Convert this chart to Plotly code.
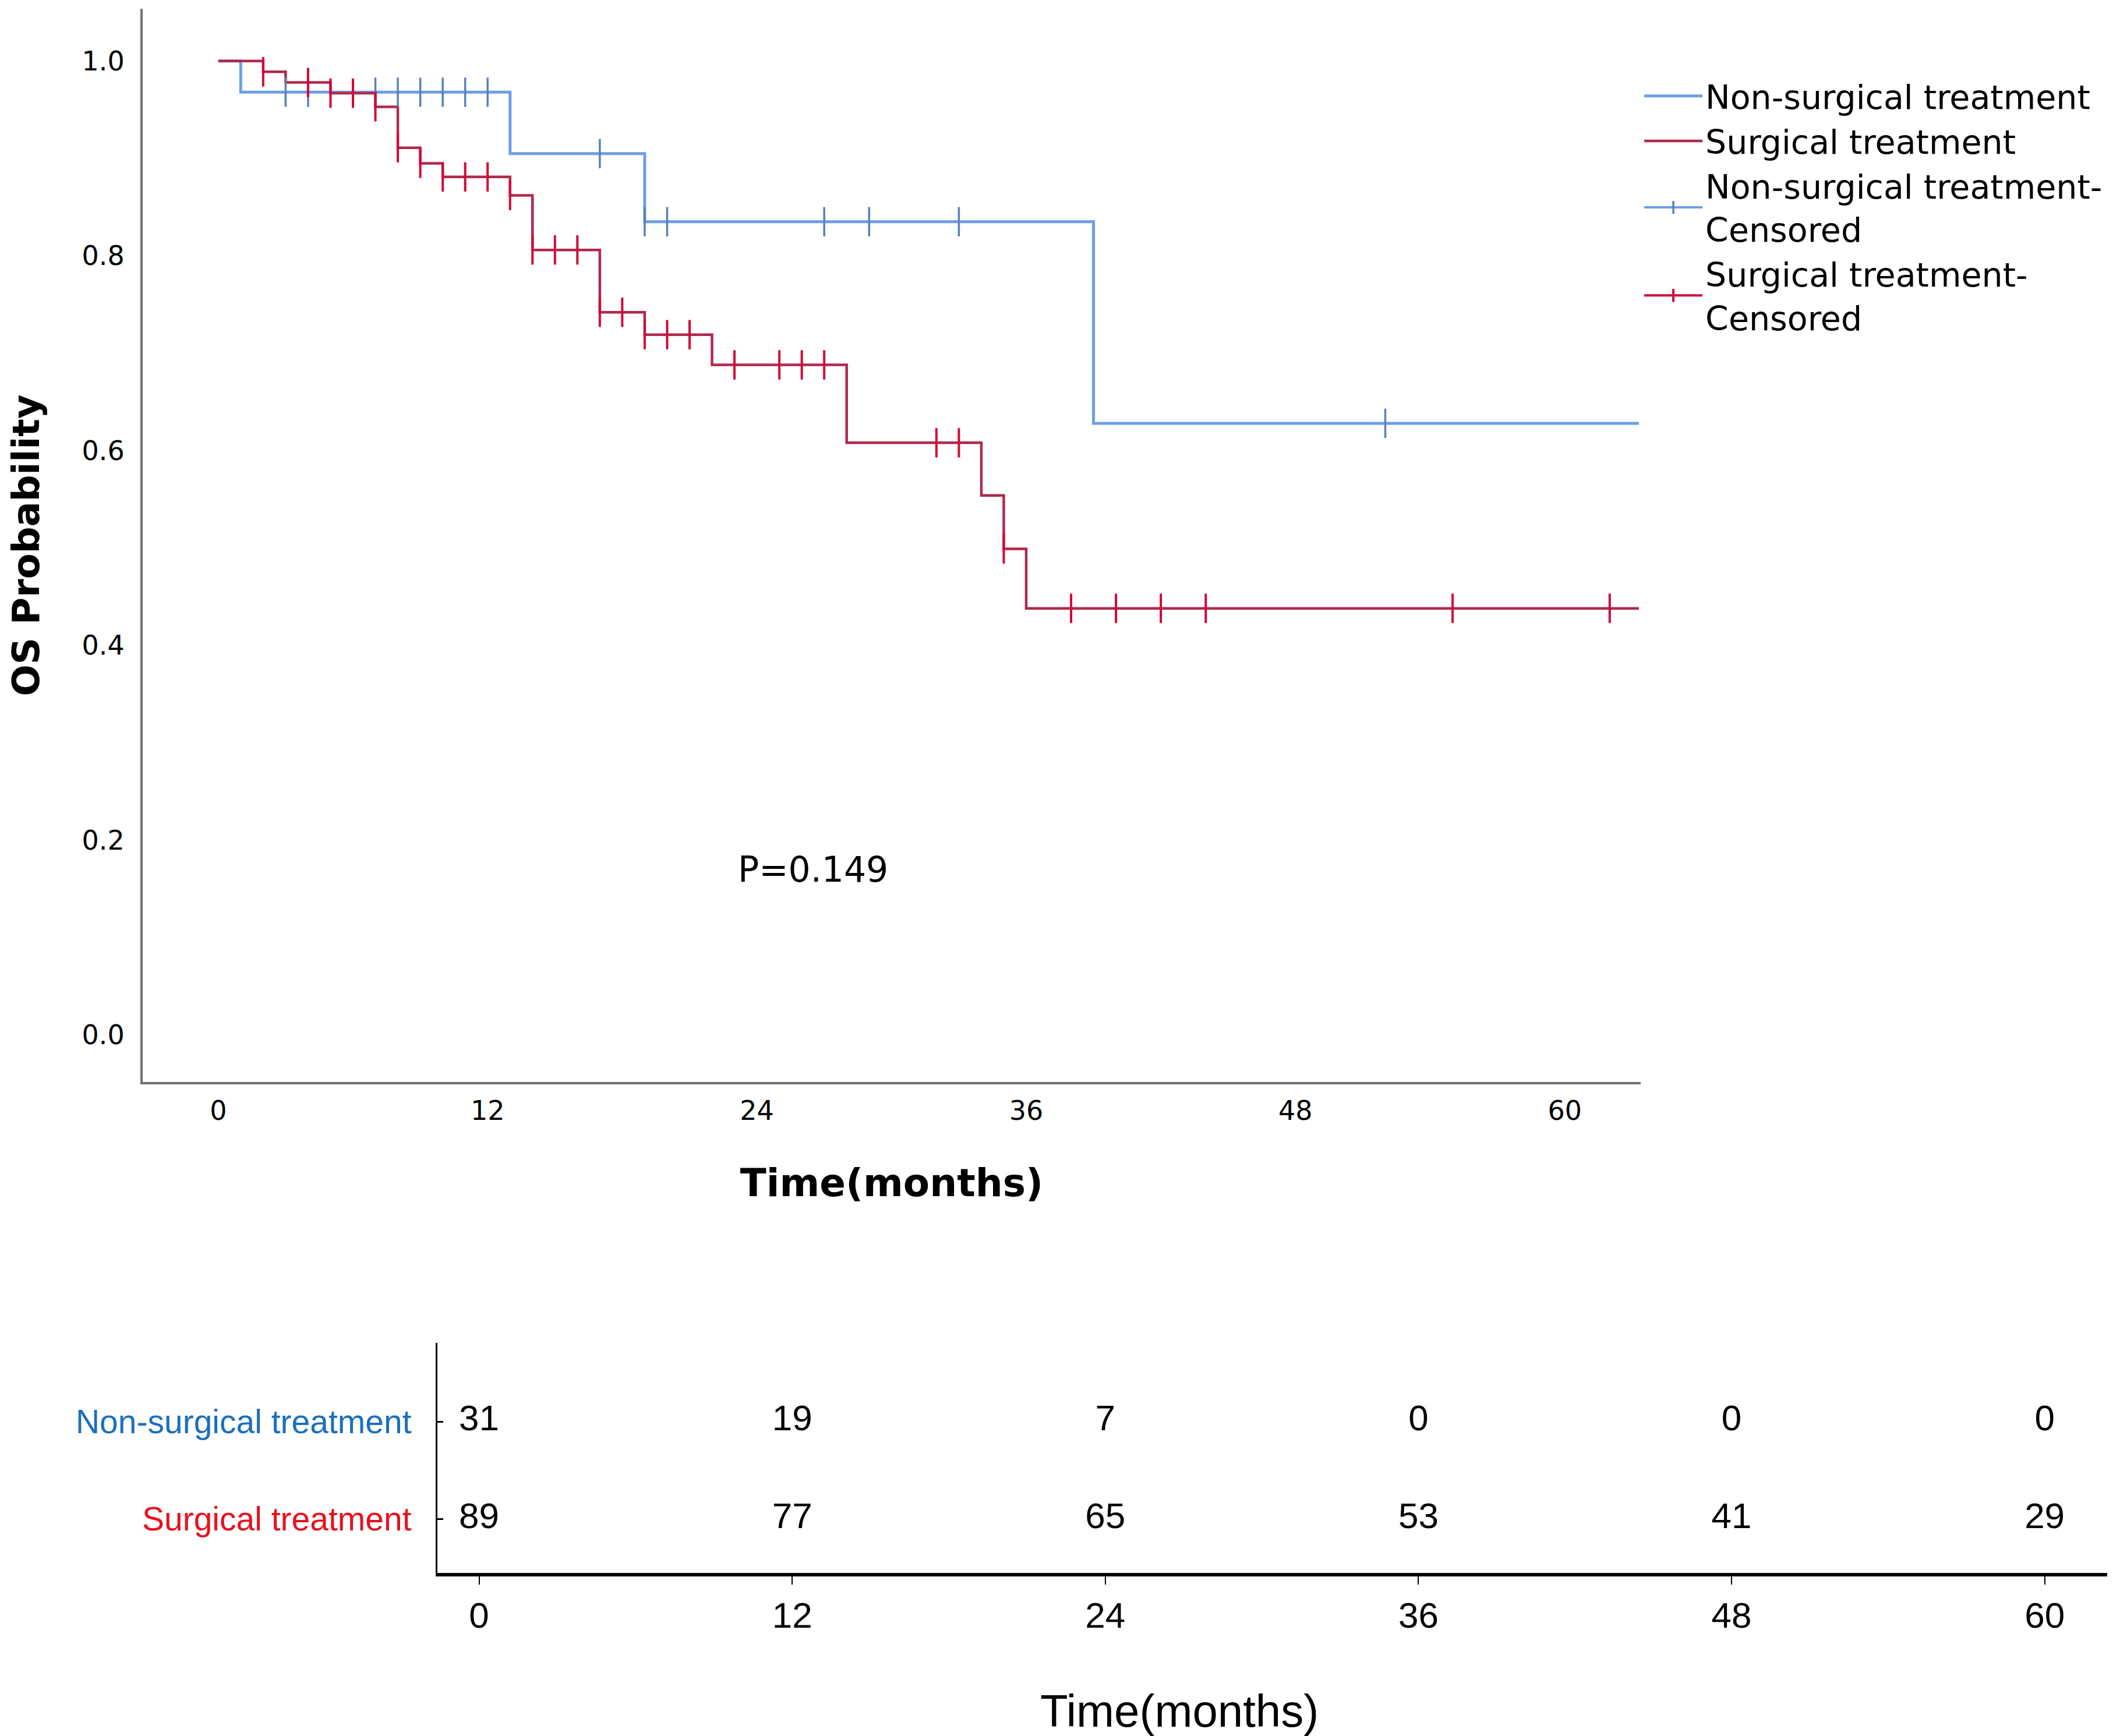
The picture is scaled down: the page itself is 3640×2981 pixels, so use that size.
import plotly.graph_objects as go

# Kaplan-Meier steps (months, OS probability)
nonsurg_time = [0, 1, 13, 19, 39, 63.3]
nonsurg_surv = [1.0, 0.968, 0.905, 0.835, 0.628, 0.628]

surg_time = [0, 2, 3, 5, 7, 8, 9, 10, 13, 14, 17, 19, 22, 28, 34, 35, 36, 63.3]
surg_surv = [1.0, 0.989, 0.978, 0.967, 0.953, 0.911, 0.895, 0.881, 0.862,
             0.806, 0.742, 0.719, 0.688, 0.608, 0.554, 0.499, 0.438, 0.438]

# censored observations
nonsurg_cens_time = [3, 4, 7, 8, 9, 10, 11, 12, 17, 19, 20, 27, 29, 33, 52]
nonsurg_cens_surv = [0.968, 0.968, 0.968, 0.968, 0.968, 0.968, 0.968, 0.968,
                     0.905, 0.835, 0.835, 0.835, 0.835, 0.835, 0.628]

surg_cens_time = [2, 4, 5, 6, 7, 8, 9, 10, 11, 12, 13, 14, 15, 16, 17, 18, 19,
                  20, 21, 23, 25, 26, 27, 32, 33, 35, 38, 40, 42, 44, 55, 62]
surg_cens_surv = [0.989, 0.978, 0.967, 0.967, 0.953, 0.911, 0.895, 0.881, 0.881,
                  0.881, 0.862, 0.806, 0.806, 0.806, 0.742, 0.742, 0.719, 0.719,
                  0.719, 0.688, 0.688, 0.688, 0.688, 0.608, 0.608, 0.499, 0.438,
                  0.438, 0.438, 0.438, 0.438, 0.438]

# number at risk table
risk_times = [0, 12, 24, 36, 48, 60]
risk_nonsurg = [31, 19, 7, 0, 0, 0]
risk_surg = [89, 77, 65, 53, 41, 29]

group_names = ['Non-surgical treatment', 'Surgical treatment']

BLUE = '#6d9de6'
BLUE_TICK = '#5a80b8'
RED = '#b0294c'
RED_TICK = '#d4063a'
SPSS_FONT = 'DejaVu Sans'
TABLE_FONT = 'Liberation Sans'


def gapped(vals):
    # isolate every point so the legend shows line + tick but no joining line
    out = []
    for v in vals:
        out += [v, None]
    return out


fig = go.Figure()

fig.add_trace(go.Scatter(x=nonsurg_time, y=nonsurg_surv, mode='lines',
                         line=dict(shape='hv', color=BLUE, width=5),
                         name=group_names[0]))
fig.add_trace(go.Scatter(x=surg_time, y=surg_surv, mode='lines',
                         line=dict(shape='hv', color=RED, width=4.5),
                         name=group_names[1]))
fig.add_trace(go.Scatter(x=gapped(nonsurg_cens_time), y=gapped(nonsurg_cens_surv),
                         mode='lines+markers', connectgaps=False,
                         line=dict(color=BLUE, width=4),
                         marker=dict(symbol='line-ns', size=36,
                                     line=dict(color=BLUE_TICK, width=3.5)),
                         name=group_names[0] + '-<br>Censored'))
fig.add_trace(go.Scatter(x=gapped(surg_cens_time), y=gapped(surg_cens_surv),
                         mode='lines+markers', connectgaps=False,
                         line=dict(color=RED_TICK, width=4),
                         marker=dict(symbol='line-ns', size=36,
                                     line=dict(color=RED_TICK, width=4)),
                         name=group_names[1] + '-<br>Censored'))

# risk table numbers
fig.add_trace(go.Scatter(x=risk_times, y=[1] * len(risk_times), mode='text',
                         text=[str(v) for v in risk_nonsurg],
                         textfont=dict(family=TABLE_FONT, size=62, color='black'),
                         xaxis='x2', yaxis='y2', showlegend=False))
fig.add_trace(go.Scatter(x=risk_times, y=[0] * len(risk_times), mode='text',
                         text=[str(v) for v in risk_surg],
                         textfont=dict(family=TABLE_FONT, size=62, color='black'),
                         xaxis='x2', yaxis='y2', showlegend=False))

fig.add_annotation(x=26.5, y=0.17, xref='x', yref='y', text='P=0.149',
                   showarrow=False, font=dict(family=SPSS_FONT, size=60, color='black'))
fig.add_annotation(x=0.554, y=0.0171, xref='paper', yref='paper', text='Time(months)',
                   xanchor='center', yanchor='middle', showarrow=False,
                   font=dict(family=TABLE_FONT, size=78, color='black'))

fig.update_layout(
    width=3640, height=2981,
    margin=dict(l=0, r=0, t=0, b=0),
    paper_bgcolor='white', plot_bgcolor='white',
    font=dict(family=SPSS_FONT, color='black'),
    xaxis=dict(domain=[0.0651, 0.7717], range=[-3.37, 63.38],
               tickvals=risk_times, ticks='', showgrid=False, zeroline=False,
               showline=True, linecolor='#707070', linewidth=4,
               tickfont=dict(family=SPSS_FONT, size=46), ticklabelstandoff=6,
               title=dict(text='<b>Time(months)</b>', standoff=76,
                          font=dict(family=SPSS_FONT, size=66))),
    yaxis=dict(domain=[0.3794, 0.9977], range=[-0.0484, 1.0538],
               tickvals=[0, 0.2, 0.4, 0.6, 0.8, 1.0], tickformat='.1f',
               ticks='', showgrid=False, zeroline=False,
               showline=True, linecolor='#707070', linewidth=4,
               tickfont=dict(family=SPSS_FONT, size=46), ticklabelstandoff=18,
               title=dict(text='<b>OS Probability</b>', standoff=67,
                          font=dict(family=SPSS_FONT, size=64))),
    xaxis2=dict(anchor='y2', domain=[0.2041, 0.9918], range=[-1.6, 62.4],
                tickvals=risk_times, ticks='outside', ticklen=14, tickwidth=2,
                tickcolor='black', showgrid=False, zeroline=False,
                showline=True, linecolor='black', linewidth=6,
                tickfont=dict(family=TABLE_FONT, size=62), ticklabelstandoff=0),
    yaxis2=dict(anchor='x2', domain=[0.0966, 0.2291], range=[-0.557, 1.808],
                tickvals=[1, 0],
                ticktext=['<span style="color:#1c6fbe">' + group_names[0] + '</span>',
                          '<span style="color:#e8111f">' + group_names[1] + '</span>'],
                ticks='inside', ticklen=10, tickwidth=3, tickcolor='black',
                showgrid=False, zeroline=False,
                showline=True, linecolor='black', linewidth=3,
                tickfont=dict(family=TABLE_FONT, size=57), ticklabelstandoff=30),
    legend=dict(x=0.772, y=0.962, xanchor='left', yanchor='top',
                font=dict(family=SPSS_FONT, size=57), bgcolor='rgba(0,0,0,0)',
                itemwidth=100, tracegroupgap=0),
)

fig.write_html('out.html')
